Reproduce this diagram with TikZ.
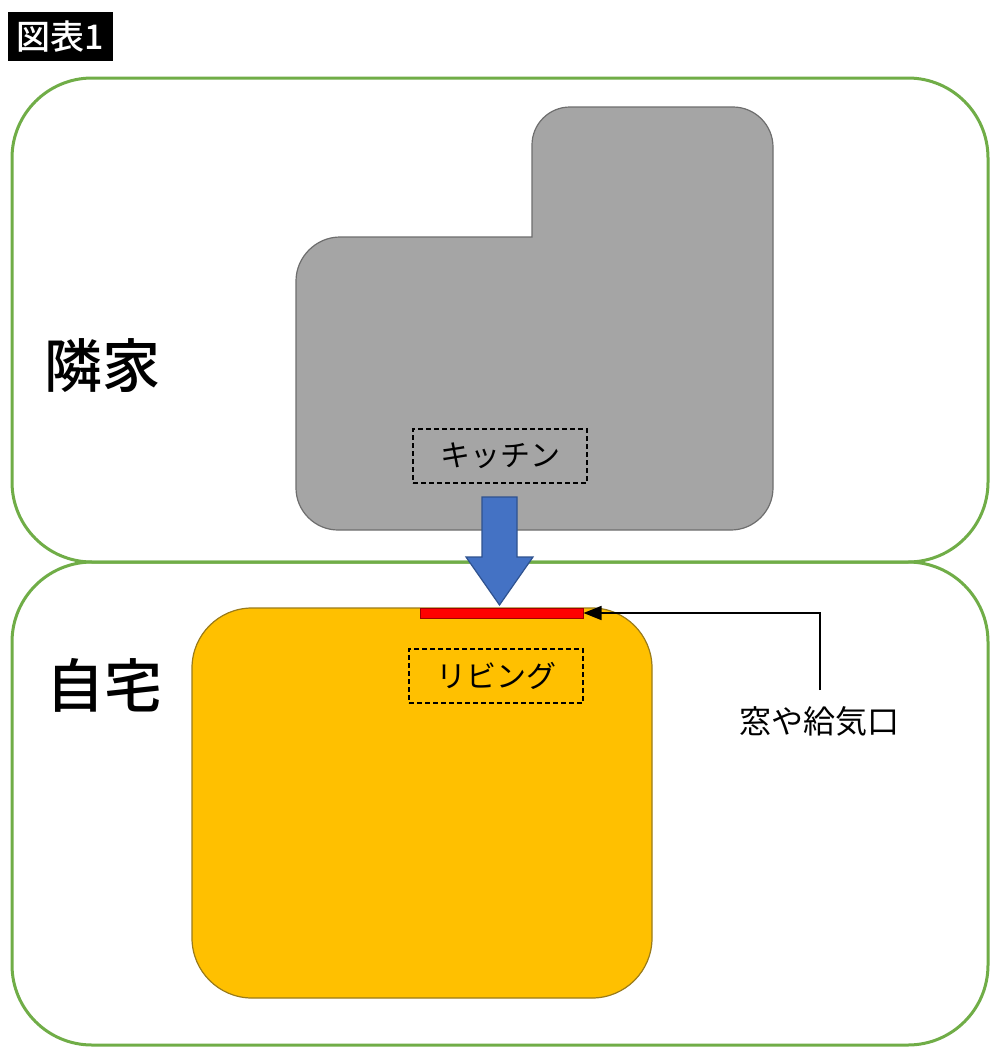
\documentclass[tikz,border=0pt]{standalone}
\usepackage{fontspec}
\newfontfamily\cjk{Noto Sans CJK JP}
\newfontfamily\cjkmed{Noto Sans CJK JP}[UprightFont=* Medium]
\usetikzlibrary{arrows.meta,positioning}
\definecolor{zonegreen}{HTML}{70AD47}
\definecolor{housegray}{HTML}{A5A5A5}
\definecolor{housegrayline}{HTML}{6E6E6E}
\definecolor{homeorange}{HTML}{FFC000}
\definecolor{homeorangeline}{HTML}{9A7B1A}
\definecolor{flowblue}{HTML}{4472C4}
\definecolor{flowblueline}{HTML}{2F528F}
\definecolor{ventred}{HTML}{FF0000}
\definecolor{ventredline}{HTML}{A00000}

\begin{document}
\begin{tikzpicture}[x=1pt,y=-1pt,>={Triangle[length=18pt,width=14pt]},font=\cjk]
\tikzset{zone/.style={draw=zonegreen,line width=3pt,rounded corners=80pt}}
\tikzset{room/.style={draw,dashed,line width=1.8pt,dash pattern=on 5pt off 3pt,minimum width=174pt,minimum height=54pt,inner sep=0pt,font=\cjk\fontsize{30}{30}\selectfont}}
\tikzset{bigtag/.style={inner sep=0pt,font=\cjkmed\fontsize{58}{58}\selectfont}}
\useasboundingbox (0,0) rectangle (1000,1057);
\fill[white] (0,0) rectangle (1000,1057);
% title
\node[fill=black,text=white,minimum width=105pt,minimum height=49pt,inner sep=0pt,
  font=\cjkmed\fontsize{34}{34}\selectfont] (title) at (60.5,36.5) {図表1};
% zones
\draw[zone] (12,78) rectangle (988,562);
\draw[zone] (12,562) rectangle (988,1045);
\node[bigtag] (neighbor) at (102,366) {隣家};
\node[bigtag] (home) at (104,685) {自宅};
% neighbour house
\draw[fill=housegray,draw=housegrayline,line width=1.2pt]
  (532,237) -- (532,145) .. controls (532,124) and (549,107) .. (570,107)
  -- (733,107) .. controls (755,107) and (773,125) .. (773,147)
  -- (773,488) .. controls (773,511) and (754,530) .. (731,530)
  -- (338,530) .. controls (315,530) and (296,511) .. (296,488)
  -- (296,281) .. controls (296,257) and (316,237) .. (340,237) -- cycle;
\node[room] (kitchen) at (500,456) {キッチン};
% own house
\draw[fill=homeorange,draw=homeorangeline,line width=1.2pt,rounded corners=60pt]
  (192,608) rectangle (652,998);
\node[room] (living) at (496,676) {リビング};
\node[fill=ventred,draw=ventredline,line width=1pt,minimum width=163pt,minimum height=10pt,inner sep=0pt] (bar) at (501.5,613) {};
% air flow
\draw[fill=flowblue,draw=flowblueline,line width=1.2pt]
  (482,497) -- (517,497) -- (517,557) -- (533,557) -- (499.5,605) -- (466,557) -- (482,557) -- cycle;
% vent label
\node[inner sep=0pt,font=\cjk\fontsize{32}{32}\selectfont] (vent) at (819,721) {窓や給気口};
\coordinate (ventend) at (820,690);
\draw[->,line width=1.6pt] (ventend) |- (bar.east);
\end{tikzpicture}
\end{document}
